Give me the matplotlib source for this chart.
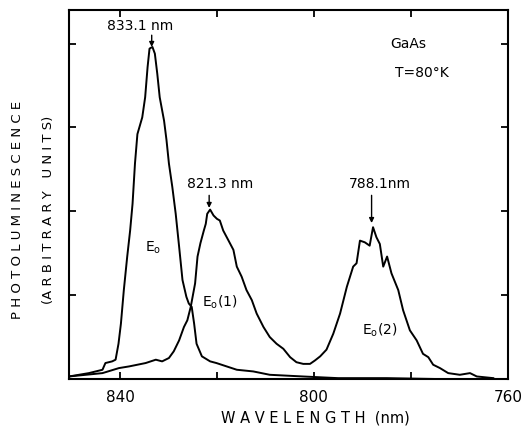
import matplotlib
matplotlib.use("Agg")
import matplotlib.pyplot as plt

# E0 spectrum (wavelength nm, intensity arb.)
e0_wl = [850.5, 846.4, 843.6, 843.0, 841.6, 840.9, 840.3, 839.8, 839.2, 838.5, 837.9,
         837.4, 836.9, 836.4, 835.9, 835.4, 834.8, 834.3, 833.9, 833.3, 832.8, 832.3,
         831.8, 830.9, 830.4, 829.9, 829.2, 828.5, 827.8, 827.1, 826.3, 825.8, 825.2,
         824.7, 824.2, 823.1, 821.4, 820.1, 815.9, 812.5, 809.1, 802.3, 795.0, 785.0,
         775.0, 762.3]
e0_val = [0.03, 0.07, 0.11, 0.19, 0.21, 0.23, 0.42, 0.66, 1.06, 1.46, 1.77,
          2.09, 2.57, 2.92, 3.02, 3.12, 3.36, 3.72, 3.94, 3.96, 3.88, 3.64,
          3.36, 3.08, 2.85, 2.57, 2.29, 1.97, 1.58, 1.18, 0.98, 0.90, 0.86,
          0.66, 0.42, 0.27, 0.21, 0.19, 0.11, 0.09, 0.05, 0.03, 0.01, 0.01,
          0.0, 0.0]

# E0(1) + E0(2) spectrum
e1_wl = [850.5, 843.6, 840.2, 838.1, 834.7, 832.6, 831.3, 829.9, 828.9, 827.8, 826.8,
         826.1, 825.4, 824.5, 824.0, 823.4, 822.7, 822.3, 822.0, 821.4, 820.7, 820.0,
         819.4, 818.7, 817.6, 816.6, 815.9, 814.9, 813.9, 812.8, 811.8, 810.4, 809.1,
         807.7, 806.3, 804.9, 803.6, 802.2, 800.8, 799.8, 798.7, 797.4, 796.0, 794.6,
         793.2, 791.9, 791.2, 790.5, 789.5, 788.5, 787.8, 787.1, 786.4, 785.7, 784.9,
         784.0, 782.6, 781.6, 780.2, 778.8, 777.5, 776.4, 775.4, 774.0, 772.3, 769.9,
         767.8, 766.4, 763.0]
e1_val = [0.03, 0.07, 0.13, 0.15, 0.19, 0.23, 0.21, 0.25, 0.33, 0.46, 0.62,
          0.70, 0.86, 1.14, 1.46, 1.62, 1.77, 1.85, 1.97, 2.02, 1.95, 1.91,
          1.89, 1.77, 1.65, 1.54, 1.34, 1.22, 1.06, 0.94, 0.78, 0.62, 0.50,
          0.42, 0.36, 0.26, 0.20, 0.18, 0.18, 0.22, 0.27, 0.35, 0.54, 0.78,
          1.10, 1.34, 1.38, 1.65, 1.63, 1.59, 1.81, 1.69, 1.61, 1.34, 1.46,
          1.26, 1.06, 0.82, 0.58, 0.46, 0.30, 0.26, 0.17, 0.13, 0.07, 0.05,
          0.07, 0.03, 0.01]

peak_labels = ["833.1 nm", "821.3 nm", "788.1nm"]
arrow_wl = [833.45, 821.6, 788.1]
arrow_top = [4.10, 2.19, 2.19]
arrow_tip = [3.96, 2.04, 1.86]
label_wl = [835.8, 819.4, 786.4]
label_y = [4.21, 2.33, 2.33]
xticks = [840, 820, 800, 780, 760]
xticklabels = ["840", "", "800", "", "760"]
yticks = [1, 2, 3, 4]

fig = plt.figure(figsize=(5.23, 4.29), dpi=100)
ax = fig.add_axes([0.132, 0.1166, 0.839, 0.86])
ax.plot(e0_wl, e0_val, color="black", lw=1.4)
ax.plot(e1_wl, e1_val, color="black", lw=1.4)
ax.set_xlim(850.5, 760)
ax.set_ylim(0, 4.4)
ax.set_xticks(xticks)
ax.set_xticklabels(xticklabels, fontsize=11)
ax.set_yticks(yticks)
ax.set_yticklabels([])
ax.tick_params(direction="in", top=True, right=True, length=5, width=1.3)
ax.tick_params(axis="x", pad=8)
for s in ax.spines.values():
    s.set_linewidth(1.5)

fig.text(0.603, 0.026, "W A V E L E N G T H  (nm)", fontsize=10.5,
         ha="center", va="center")
fig.text(0.034, 0.51, "P H O T O L U M I N E S C E N C E", rotation=90,
         ha="center", va="center", fontsize=9.5)
fig.text(0.092, 0.51, "(A R B I T R A R Y   U N I T S)", rotation=90,
         ha="center", va="center", fontsize=9.5)

# peak annotations (vertical arrows)
for lab, aw, at, ap, lw_, ly in zip(peak_labels, arrow_wl, arrow_top, arrow_tip,
                                    label_wl, label_y):
    ax.annotate("", xy=(aw, ap), xytext=(aw, at),
                arrowprops=dict(arrowstyle="-|>", color="black", lw=1,
                                mutation_scale=7, shrinkA=0, shrinkB=0))
    ax.text(lw_, ly, lab, ha="center", va="center", fontsize=10)

ax.text(780.5, 4.0, "GaAs", fontsize=10, ha="center", va="center")
ax.text(777.8, 3.65, "T=80°K", fontsize=10, ha="center", va="center")
ax.text(833.1, 1.57, r"E$_\mathrm{o}$", fontsize=10, ha="center", va="center")
ax.text(819.4, 0.92, r"E$_\mathrm{o}$(1)", fontsize=10, ha="center", va="center")
ax.text(786.4, 0.58, r"E$_\mathrm{o}$(2)", fontsize=10, ha="center", va="center")

fig.savefig("out.png", dpi=100)
